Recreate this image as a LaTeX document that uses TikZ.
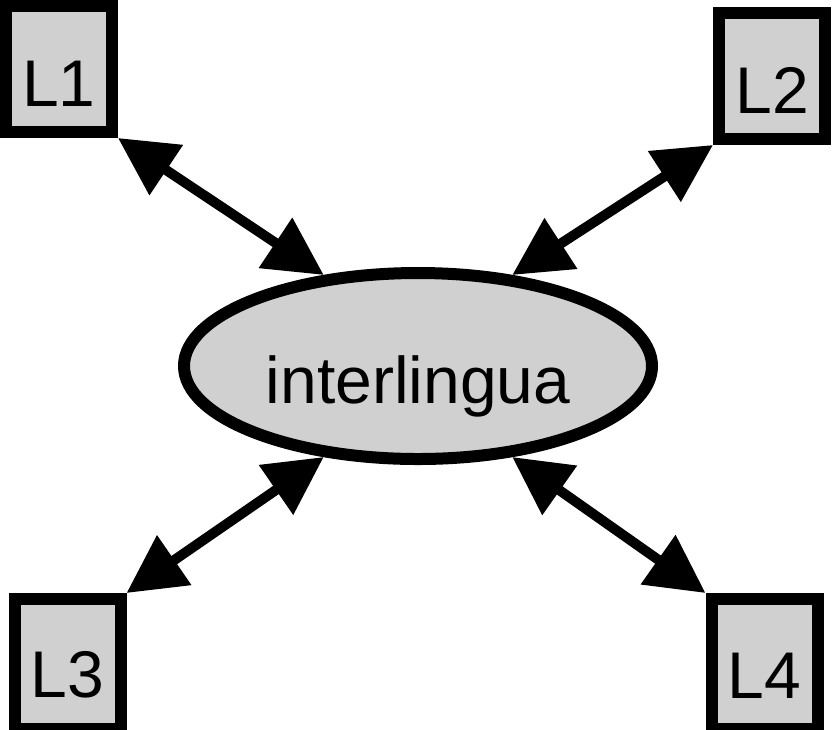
\documentclass[tikz,border=0pt]{standalone}
\usepackage{fontspec}
\setmainfont{Liberation Sans}
\usetikzlibrary{arrows.meta, shapes.geometric}
\definecolor{boxgray}{RGB}{208,208,208}

\begin{document}
\begin{tikzpicture}[x=0.5pt, y=-0.5pt,
    langbox/.style={draw, fill=boxgray, line width=6pt, minimum width=53pt, minimum height=63pt, inner sep=0pt, text height=37pt, font=\fontsize{33pt}{36pt}\selectfont},
    link/.style={{Triangle[length=29pt, width=29pt]}-{Triangle[length=29pt, width=29pt]}, line width=5pt}]
    \useasboundingbox (0,0) rectangle (833,729);

    % Interlingua
    \node[draw, ellipse, fill=boxgray, line width=6pt, minimum width=234pt, minimum height=93pt, inner sep=0pt, text height=44pt, text depth=7pt, font=\fontsize{33pt}{36pt}\selectfont] (inter) at (418,366) {interlingua};

    % Languages
    \node[langbox] (l1) at (59,69) {L1};
    \node[langbox] (l2) at (772,76) {L2};
    \node[langbox, minimum height=65pt, text height=34pt] (l3) at (67.5,664) {L3};
    \node[langbox, minimum height=65pt, text height=34pt] (l4) at (764.5,664) {L4};

    % Arrows
    \draw[link] (l1.south east) -- (inter.136);
    \draw[link] (l2.south west) -- (inter.44);
    \draw[link] (l3.north east) -- (inter.-136);
    \draw[link] (l4.north west) -- (inter.-44);
\end{tikzpicture}
\end{document}
